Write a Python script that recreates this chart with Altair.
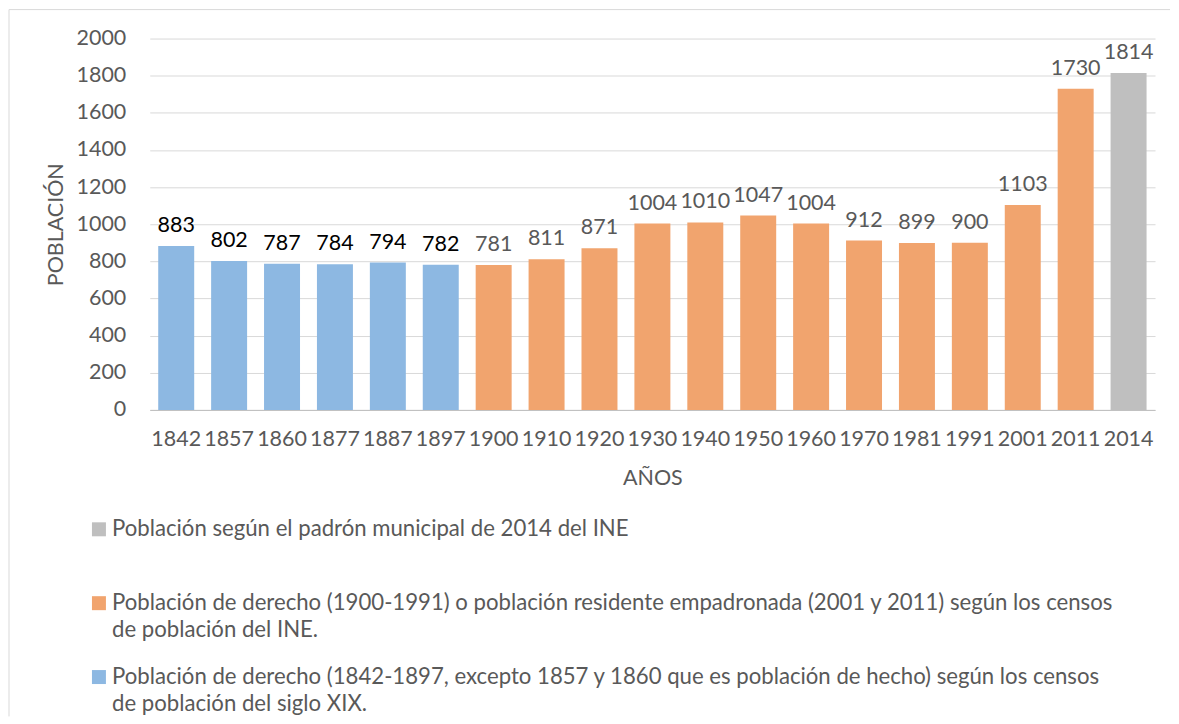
import altair as alt
import pandas as pd

# ---- data ----
years = ["1842", "1857", "1860", "1877", "1887", "1897", "1900", "1910", "1920", "1930",
         "1940", "1950", "1960", "1970", "1981", "1991", "2001", "2011", "2014"]
values = [883, 802, 787, 784, 794, 782, 781, 811, 871, 1004,
          1010, 1047, 1004, 912, 899, 900, 1103, 1730, 1814]
groups = ["XIX", "XIX", "XIX", "XIX", "XIX", "XIX",
          "INE", "INE", "INE", "INE", "INE", "INE", "INE", "INE", "INE", "INE", "INE", "INE",
          "PADRON"]
y_ticks = [0, 200, 400, 600, 800, 1000, 1200, 1400, 1600, 1800, 2000]

series_names = {
    "PADRON": "Población según el padrón municipal de 2014 del INE\n ",
    "INE": "Población de derecho (1900-1991) o población residente empadronada (2001 y 2011) según los censos\nde población del INE.",
    "XIX": "Población de derecho (1842-1897, excepto 1857 y 1860 que es población de hecho) según los censos\nde población del siglo XIX.",
}
legend_order = [series_names["PADRON"], series_names["INE"], series_names["XIX"]]
palette = ["#BFBFBF", "#F1A46E", "#8DB8E2"]

df = pd.DataFrame({
    "year": years,
    "value": values,
    "serie": [series_names[g] for g in groups],
})

GREY_TXT = "#595959"
FONT = "Lato"
FS = 21.5
FS_LEG = 22.2

x_enc = alt.X(
    "year:N", sort=years, title="AÑOS",
    scale=alt.Scale(paddingInner=0.32, paddingOuter=0.16),
    axis=alt.Axis(labelAngle=0, ticks=False, labelPadding=19, titlePadding=17,
                  labelOverlap=False,
                  domainColor="#BFBFBF", domainWidth=1, grid=False),
)
y_enc = alt.Y(
    "value:Q", title="POBLACIÓN",
    scale=alt.Scale(domain=[0, 2000], nice=False),
    axis=alt.Axis(values=y_ticks, format="d", ticks=False, domain=False, labelOverlap=False,
                  labelPadding=24, titlePadding=9, gridColor="#D9D9D9", gridWidth=1),
)

base = alt.Chart(df)

bars = base.mark_bar().encode(
    color=alt.Color(
        "serie:N",
        scale=alt.Scale(domain=legend_order, range=palette),
        legend=alt.Legend(
            title=None, orient="none", legendX=-62, legendY=487,
            direction="vertical", columns=1,
            labelExpr="split(datum.label, '\\n')",
            labelLimit=1150, labelFontSize=FS_LEG, labelFont=FONT, labelColor=GREY_TXT,
            labelBaseline="alphabetic", labelOffset=2,
            symbolType="M-1,-1.93H1V0.07H-1Z", symbolSize=196, symbolStrokeWidth=0,
            symbolOpacity=1, rowPadding=24, padding=0,
        ),
    ),
)

labels = base.mark_text(baseline="alphabetic", dy=-14, fontSize=FS, font=FONT).encode(
    text=alt.Text("value:Q"),
    color=alt.condition(alt.datum.serie == series_names["XIX"], alt.value("#000000"), alt.value(GREY_TXT)),
)

data_layer = alt.layer(bars, labels).encode(x=x_enc, y=y_enc)

frame_df = pd.DataFrame({"k": [0]})
frame_top = alt.Chart(frame_df).mark_rule(color="#D9D9D9", strokeWidth=1).encode(
    x=alt.value(-141), x2=alt.value(1022), y=alt.value(-29)
)
frame_left = alt.Chart(frame_df).mark_rule(color="#D9D9D9", strokeWidth=1).encode(
    x=alt.value(-141), y=alt.value(-29), y2=alt.value(679)
)

chart = alt.layer(frame_top, frame_left, data_layer).properties(
    width=1007, height=372, padding=0
).configure(
    font=FONT, style={"guide-label": {"lineHeight": 27}}
).configure_view(
    strokeWidth=0
).configure_axis(
    labelFont=FONT, labelFontSize=FS, labelColor=GREY_TXT,
    titleFont=FONT, titleFontSize=FS, titleColor=GREY_TXT, titleFontWeight="normal",
)

chart.save("out.html", embed_options={"renderer": "svg", "actions": False})
